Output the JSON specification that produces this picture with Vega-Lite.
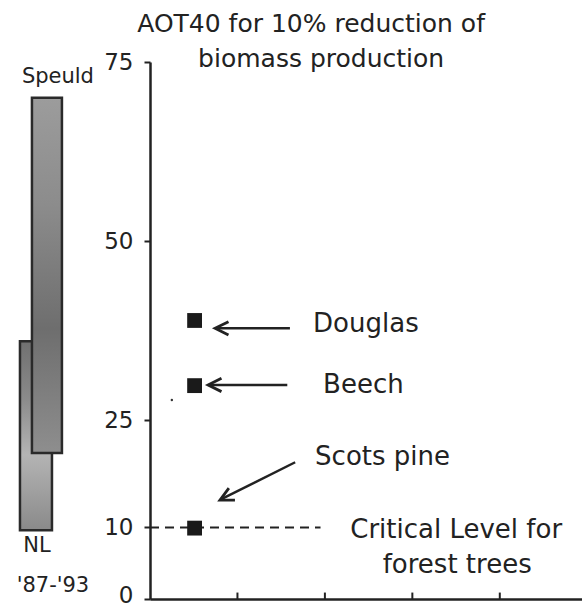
{
  "$schema": "https://vega.github.io/schema/vega-lite/v6.json",
  "width": 432,
  "height": 537,
  "autosize": {"type": "none"},
  "padding": {"left": 150, "top": 62, "right": 0, "bottom": 10},
  "background": "white",
  "config": {"view": {"stroke": null}, "font": "DejaVu Sans"},
  "layer": [
    {
      "data": {"values": [{"bar": "NL", "x": -1.487, "x2": -1.121, "y": 9.6, "y2": 36.0}]},
      "mark": {
        "type": "rect",
        "clip": false,
        "stroke": "#2a2a2a",
        "strokeWidth": 2.5,
        "fill": {
          "gradient": "linear", "x1": 0, "y1": 0, "x2": 0, "y2": 1,
          "stops": [
            {"offset": 0, "color": "#707070"},
            {"offset": 0.3, "color": "#8a8a8a"},
            {"offset": 0.6, "color": "#b4b4b4"},
            {"offset": 1, "color": "#8a8a8a"}
          ]
        }
      },
      "encoding": {
        "x": {
          "field": "x", "type": "quantitative",
          "scale": {"domain": [0, 4.94], "nice": false, "zero": false},
          "axis": {
            "title": null, "values": [1, 2, 3, 4], "labels": false, "ticks": false,
            "domainColor": "#222", "domainWidth": 2.5, "grid": false
          }
        },
        "x2": {"field": "x2"},
        "y": {
          "field": "y", "type": "quantitative",
          "scale": {"domain": [0, 75], "nice": false, "zero": true},
          "axis": {
            "title": null, "values": [0, 10, 25, 50, 75],
            "labelFontSize": 23, "labelFont": "DejaVu Sans", "labelColor": "#222",
            "labelPadding": 11, "tickSize": 6, "tickWidth": 2, "tickColor": "#222",
            "labelOffset": {"condition": {"test": "datum.value === 0", "value": -4}, "value": 0},
            "domainColor": "#222", "domainWidth": 2.5, "grid": false, "labelOverlap": false
          }
        },
        "y2": {"field": "y2"}
      }
    },
    {
      "data": {"values": [{"bar": "Speuld", "x": -1.35, "x2": -1.007, "y": 20.4, "y2": 70.0}]},
      "mark": {
        "type": "rect",
        "clip": false,
        "stroke": "#2a2a2a",
        "strokeWidth": 2.5,
        "fill": {
          "gradient": "linear", "x1": 0, "y1": 0, "x2": 0, "y2": 1,
          "stops": [
            {"offset": 0, "color": "#9c9c9c"},
            {"offset": 0.3, "color": "#8c8c8c"},
            {"offset": 0.65, "color": "#6e6e6e"},
            {"offset": 1, "color": "#8e8e8e"}
          ]
        }
      },
      "encoding": {
        "x": {"field": "x", "type": "quantitative"},
        "x2": {"field": "x2"},
        "y": {"field": "y", "type": "quantitative"},
        "y2": {"field": "y2"}
      }
    },
    {
      "data": {"values": [
        {"x": 1, "y": 0, "y2": 0.9},
        {"x": 2, "y": 0, "y2": 0.9},
        {"x": 3, "y": 0, "y2": 0.9},
        {"x": 4, "y": 0, "y2": 0.9}
      ]},
      "mark": {"type": "rule", "color": "#222", "strokeWidth": 2},
      "encoding": {
        "x": {"field": "x", "type": "quantitative"},
        "y": {"field": "y", "type": "quantitative"},
        "y2": {"field": "y2"}
      }
    },
    {
      "data": {"values": [{"x": 0, "x2": 1.95, "y": 10}]},
      "mark": {"type": "rule", "clip": false, "color": "#222", "strokeWidth": 2, "strokeDash": [9, 6]},
      "encoding": {
        "x": {"field": "x", "type": "quantitative"},
        "x2": {"field": "x2"},
        "y": {"field": "y", "type": "quantitative"}
      }
    },
    {
      "data": {"values": [
        {"tree": "Douglas", "x": 0.51, "y": 38.9},
        {"tree": "Beech", "x": 0.51, "y": 29.8},
        {"tree": "Scots pine", "x": 0.51, "y": 9.9}
      ]},
      "mark": {"type": "point", "shape": "square", "filled": true, "size": 220, "color": "#1a1a1a", "opacity": 1, "clip": false},
      "encoding": {
        "x": {"field": "x", "type": "quantitative"},
        "y": {"field": "y", "type": "quantitative"}
      }
    },
    {
      "data": {"values": [{"x": 0.25, "y": 27.8}]},
      "mark": {"type": "point", "shape": "circle", "filled": true, "size": 6, "color": "#333", "opacity": 1},
      "encoding": {
        "x": {"field": "x", "type": "quantitative"},
        "y": {"field": "y", "type": "quantitative"}
      }
    },
    {
      "data": {"values": [
        {"tree": "Douglas", "x": 1.60, "y": 37.8, "x2": 0.75, "y2": 37.8},
        {"tree": "Beech", "x": 1.57, "y": 29.9, "x2": 0.67, "y2": 29.9},
        {"tree": "Scots pine", "x": 1.66, "y": 19.1, "x2": 0.81, "y2": 13.9}
      ]},
      "mark": {"type": "rule", "color": "#222", "strokeWidth": 2.5, "clip": false},
      "encoding": {
        "x": {"field": "x", "type": "quantitative"},
        "y": {"field": "y", "type": "quantitative"},
        "x2": {"field": "x2"},
        "y2": {"field": "y2"}
      }
    },
    {
      "data": {"values": [
        {"tree": "Douglas", "x": 0.744, "y": 37.8, "angle": 0},
        {"tree": "Beech", "x": 0.664, "y": 29.9, "angle": 0},
        {"tree": "Scots pine", "x": 0.80, "y": 13.8, "angle": -27}
      ]},
      "mark": {"type": "point", "shape": "M2,-1L0,0L2,1", "filled": false, "size": 180, "color": "#222", "strokeWidth": 2.8, "opacity": 1, "clip": false},
      "encoding": {
        "x": {"field": "x", "type": "quantitative"},
        "y": {"field": "y", "type": "quantitative"},
        "angle": {"field": "angle", "type": "quantitative", "scale": null}
      }
    },
    {
      "data": {"values": [
        {"label": "Douglas", "x": 1.865, "y": 38.4},
        {"label": "Beech", "x": 1.979, "y": 29.9},
        {"label": "Scots pine", "x": 1.888, "y": 19.8}
      ]},
      "mark": {"type": "text", "align": "left", "baseline": "middle", "font": "DejaVu Sans", "fontSize": 26, "color": "#222", "clip": false},
      "encoding": {
        "x": {"field": "x", "type": "quantitative"},
        "y": {"field": "y", "type": "quantitative"},
        "text": {"field": "label"}
      }
    },
    {
      "data": {"values": [
        {"label": "Critical Level for", "x": 3.501, "y": 9.6, "size": 26},
        {"label": "forest trees", "x": 3.513, "y": 4.8, "size": 26},
        {"label": "AOT40 for 10% reduction of", "x": 1.842, "y": 80.3, "size": 25},
        {"label": "biomass production", "x": 1.957, "y": 75.4, "size": 25},
        {"label": "Speuld", "x": -1.053, "y": 72.9, "size": 21},
        {"label": "NL", "x": -1.293, "y": 7.4, "size": 21},
        {"label": "'87-'93", "x": -1.11, "y": 1.8, "size": 21}
      ]},
      "mark": {"type": "text", "align": "center", "baseline": "middle", "font": "DejaVu Sans", "color": "#222", "clip": false},
      "encoding": {
        "x": {"field": "x", "type": "quantitative"},
        "y": {"field": "y", "type": "quantitative"},
        "size": {"field": "size", "type": "quantitative", "scale": null, "legend": null},
        "text": {"field": "label"}
      }
    }
  ]
}
